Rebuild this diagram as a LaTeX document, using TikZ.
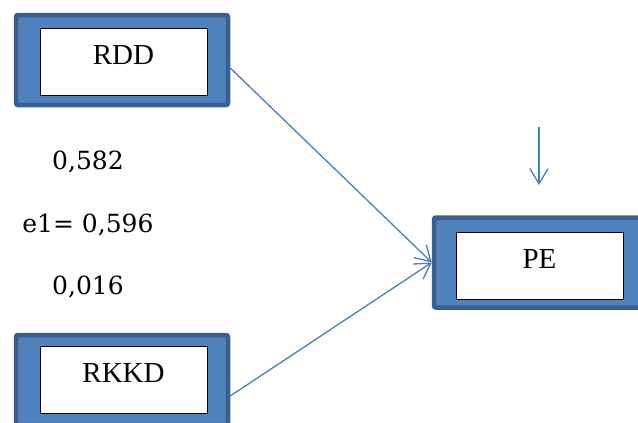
\documentclass[tikz,border=0pt]{standalone}
\usepackage{fontspec}
\setmainfont{Liberation Serif}
\newfontfamily\numfont{DejaVu Serif}
\usetikzlibrary{arrows.meta}
\definecolor{boxfill}{HTML}{4F81BD}
\definecolor{boxline}{HTML}{3A5F8E}
\definecolor{arrowblue}{HTML}{4A7EBB}

\begin{document}
\begin{tikzpicture}[x=1pt,y=-1pt,line width=1.2pt,
                    >={Straight Barb[length=15pt,width=18pt]}]
\tikzstyle{outer}=[draw=boxline,fill=boxfill,line width=4.5pt,rounded corners=2pt,
                   minimum width=212pt,minimum height=90pt,inner sep=0pt]
\tikzstyle{inner}=[draw=black,fill=white,line width=0.8pt,minimum width=167pt,
                   minimum height=67pt,inner sep=0pt,text depth=13pt,font=\fontsize{29}{32}\selectfont]
\tikzstyle{coef}=[anchor=base,inner sep=0pt,font=\numfont\fontsize{25}{28}\selectfont]
\tikzstyle{link}=[->,draw=arrowblue,line width=1.3pt]
\useasboundingbox (0,0) rectangle (638,423);

\node [outer] (rddbox) at (122,60) {};
\node [inner] (rdd) at (123.5,61.5) {RDD};
\node [outer] (rkkdbox) at (122,380) {};
\node [inner] (rkkd) at (123.5,379.5) {RKKD};
\node [outer] (pebox) at (540,262.5) {};
\node [inner] (pe) at (539.5,266) {PE};

\node [coef] (b1) at (88,169) {0,582};
\node [coef] (e1) at (88,232) {e1= 0,596};
\node [coef] (b2) at (88,294) {0,016};

\coordinate (errtop) at (539,127);
\coordinate (errtip) at (539,185);

\draw [link] ([yshift=-8pt]rddbox.east) -- (pebox.west);
\draw [link] ([yshift=-16pt]rkkdbox.east) -- (pebox.west);
\draw [link] (errtop) -- (errtip);
\end{tikzpicture}
\end{document}
